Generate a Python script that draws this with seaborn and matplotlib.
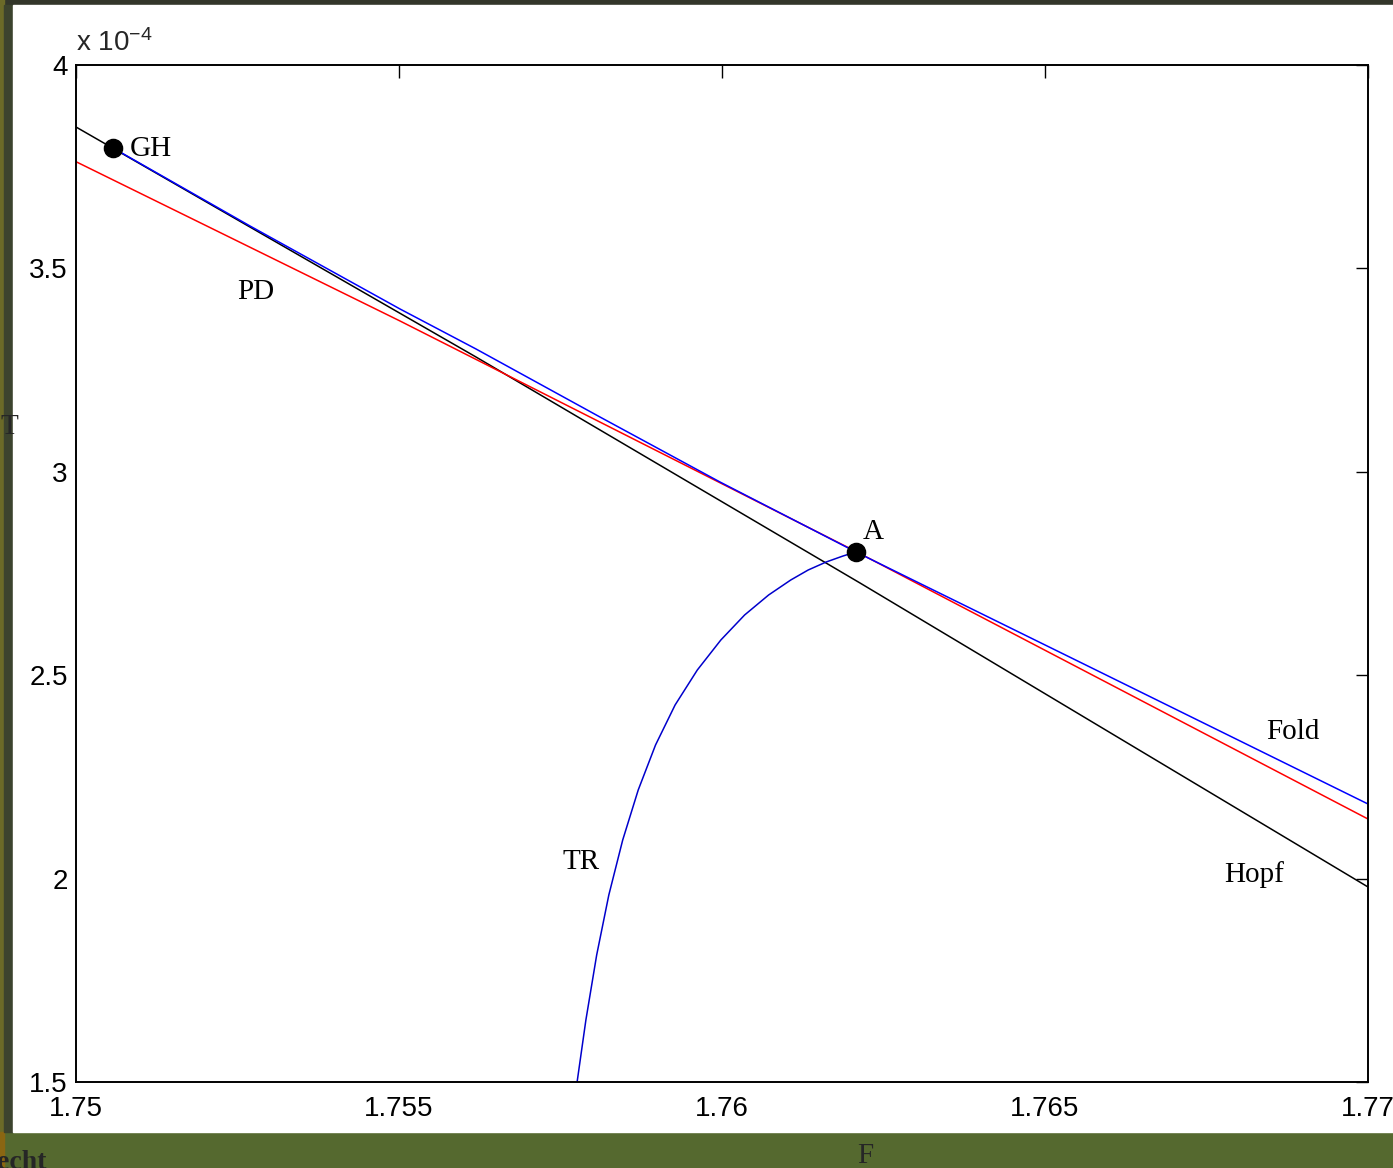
import matplotlib
matplotlib.use("Agg")
import matplotlib.pyplot as plt
import matplotlib.patches as mpatches
import pandas as pd
import seaborn as sns

# curve data (T in units of 1e-4)
hopf_F = [1.75, 1.756192, 1.762136, 1.77]
hopf_T = [3.8476, 3.2822, 2.7267, 1.9794]

pd_F = [1.75, 1.755016, 1.762059, 1.77]
pd_T = [3.7623, 3.3707, 2.8053, 2.1465]

fold_F = [1.750573, 1.752694, 1.755016, 1.756192, 1.758111, 1.759969, 1.762074, 1.765851, 1.77]
fold_T = [3.7960, 3.6042, 3.4002, 3.3019, 3.1347, 2.9749, 2.8029, 2.5079, 2.1834]

tr_F = [1.762074, 1.761873, 1.761613, 1.761334, 1.761064, 1.760722, 1.760350, 1.759982, 1.759618,
        1.759274, 1.758971, 1.758703, 1.758463, 1.758248, 1.758060, 1.757893, 1.757757]
tr_T = [2.8029, 2.7930, 2.7783, 2.7586, 2.7340, 2.6972, 2.6480, 2.5865, 2.5128,
        2.4268, 2.3284, 2.2178, 2.0949, 1.9597, 1.8122, 1.6524, 1.5]

pts_F = [1.750573, 1.762074]
pts_T = [3.7960, 2.8029]

x_ticks = [1.75, 1.755, 1.76, 1.765, 1.77]
x_labels = ['1.75', '1.755', '1.76', '1.765', '1.77']
y_ticks = [1.5, 2, 2.5, 3, 3.5, 4]
y_labels = ['1.5', '2', '2.5', '3', '3.5', '4']

# label name, F, T (baseline)
etiquetas = [('GH', 1.750825, 3.7763), ('PD', 1.752492, 3.4240), ('A', 1.762178, 2.8341),
             ('Fold', 1.768430, 2.3424), ('Hopf', 1.767771, 1.9917), ('TR', 1.757526, 2.0236)]

sns.set_style("white")
plt.rcParams['font.family'] = ['Liberation Sans', 'DejaVu Sans']
plt.rcParams['mathtext.default'] = 'regular'

W, H = 1393, 1168
fig = plt.figure(figsize=(W / 100, H / 100), dpi=100, facecolor='#55692f')

# page background pieces around the white figure
fig.patches.append(mpatches.Rectangle((0, 0), 1, 1, transform=fig.transFigure, color='#55692f', zorder=-10))
fig.patches.append(mpatches.Rectangle((0, 1 - 5 / H), 1, 5 / H, transform=fig.transFigure, color='#33362a', zorder=-9))
fig.patches.append(mpatches.Rectangle((0, 36 / H), 4 / W, 1, transform=fig.transFigure, color='#6b6a28', zorder=-9))
fig.patches.append(mpatches.Rectangle((0, 0), 4 / W, 36 / H, transform=fig.transFigure, color='#8a6612', zorder=-9))
fig.patches.append(mpatches.Rectangle((4 / W, 36 / H), 9 / W, 1 - 41 / H, transform=fig.transFigure, color='#3c432e', zorder=-9))
fig.patches.append(mpatches.Rectangle((13 / W, 36 / H), 1 - 13 / W, 1 - 41 / H, transform=fig.transFigure, color='white', zorder=-8))

ax = fig.add_axes([76 / W, 86 / H, 1292 / W, 1017 / H])
ax.set_facecolor('white')

curvas = [(hopf_F, hopf_T, 'black'), (pd_F, pd_T, 'red'), (fold_F, fold_T, 'blue'), (tr_F, tr_T, '#0000cc')]
for F, T, c in curvas:
    df = pd.DataFrame({'F': F, 'T': T})
    sns.lineplot(data=df, x='F', y='T', ax=ax, color=c, linewidth=1.1, sort=False, estimator=None)

sns.scatterplot(x=pts_F, y=pts_T, ax=ax, color='black', s=170, edgecolor='black', zorder=5)

for nombre, f, t in etiquetas:
    ax.text(f, t, nombre, family=['Liberation Serif', 'DejaVu Serif'], fontsize=21, va='baseline',
            ha='left', color='black')

ax.set_xlim(1.75, 1.77)
ax.set_ylim(1.5, 4)
ax.set_xticks(x_ticks)
ax.set_xticklabels(x_labels)
ax.set_yticks(y_ticks)
ax.set_yticklabels(y_labels)
ax.set_xlabel('')
ax.set_ylabel('')
ax.tick_params(direction='in', length=9, width=1, top=True, right=True, labelsize=20, colors='black')
ax.tick_params(axis='x', pad=10)
ax.tick_params(axis='y', pad=6)
for s in ax.spines.values():
    s.set_visible(True)
    s.set_color('black')
    s.set_linewidth(1.4)

ax.annotate(r'x 10$^{-4}$', xy=(0, 1), xycoords='axes fraction', xytext=(0, 6),
            textcoords='offset points', fontsize=20, ha='left', va='bottom')

# axis labels sit partly outside the white figure in the screenshot
fig.text(9 / W, 1 - 427 / H, 'T', family=['Liberation Serif', 'DejaVu Serif'], fontsize=21, ha='center', va='center')
fig.text(865 / W, 1 - 1156 / H, 'F', family=['Liberation Serif', 'DejaVu Serif'], fontsize=21, ha='center', va='center')
fig.text(-3 / W, 1 - 1150 / H, 'echt', family=['Liberation Serif', 'DejaVu Serif'], fontsize=20,
         fontweight='bold', ha='left', va='top')

fig.savefig('out.png', dpi=100, facecolor=fig.get_facecolor())
